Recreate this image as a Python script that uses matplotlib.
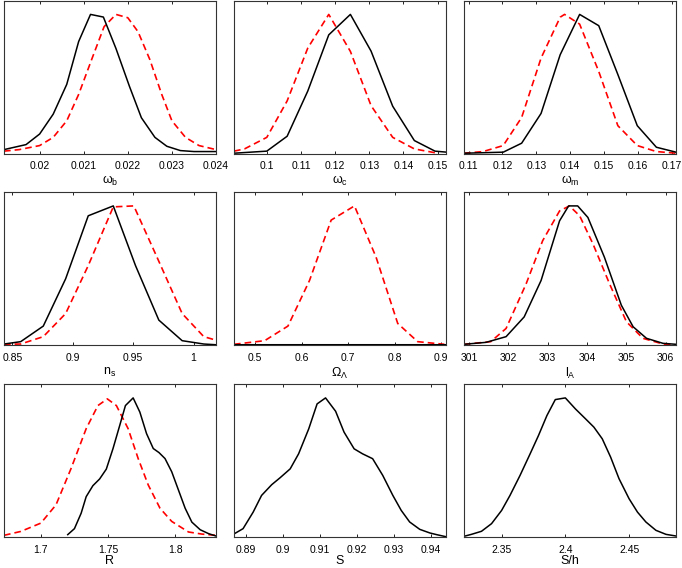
import matplotlib
matplotlib.use("Agg")
import matplotlib.pyplot as plt
from matplotlib.ticker import FuncFormatter

plt.rcParams['font.family'] = ['Liberation Sans', 'DejaVu Sans']
plt.rcParams['mathtext.fontset'] = 'custom'
plt.rcParams['mathtext.rm'] = 'Liberation Sans'
plt.rcParams['mathtext.it'] = 'Liberation Sans'

# omega_b
wb_x = [0.019192, 0.019692, 0.02, 0.020308, 0.020615, 0.020885, 0.021154, 0.021446,
        0.021731, 0.022038, 0.022308, 0.022615, 0.022885, 0.023192, 0.0235, 0.024]
wb_black = [0.028, 0.064, 0.140, 0.283, 0.497, 0.805, 1.0, 0.981,
            0.755, 0.482, 0.257, 0.116, 0.052, 0.021, 0.014, 0.014]
wb_red_x = [0.019192, 0.019538, 0.02, 0.020308, 0.020615, 0.020885, 0.021192, 0.021462, 0.021731,
            0.022, 0.022231, 0.0225, 0.022769, 0.023, 0.023308, 0.023615, 0.024]
wb_red = [0.017, 0.028, 0.057, 0.116, 0.235, 0.425, 0.686, 0.912, 1.0,
          0.976, 0.876, 0.675, 0.425, 0.235, 0.116, 0.057, 0.028]

# omega_c
wc_x = [0.0904, 0.1, 0.10595, 0.11199, 0.11813, 0.12446, 0.13051, 0.13684, 0.14318, 0.14922, 0.15244]
wc_black = [0.002, 0.017, 0.124, 0.449, 0.853, 1.0, 0.736, 0.340, 0.093, 0.017, 0.010]
wc_red_x = [0.0904, 0.09347, 0.1, 0.10595, 0.11199, 0.11813, 0.12446, 0.13051, 0.13684, 0.14318, 0.15]
wc_red = [0.017, 0.033, 0.116, 0.378, 0.758, 1.0, 0.734, 0.344, 0.116, 0.033, 0.002]

# omega_m
wm_x = [0.10866, 0.12023, 0.12567, 0.1314, 0.13704, 0.14278, 0.14842, 0.15406, 0.15979, 0.16543, 0.17122]
wm_black = [0.002, 0.0095, 0.074, 0.288, 0.71, 1.0, 0.919, 0.568, 0.2, 0.045, 0.0095]
wm_red_x = [0.10866, 0.11429, 0.12023, 0.12567, 0.1314, 0.13704, 0.13833, 0.14278, 0.14842,
            0.15406, 0.15979, 0.16543, 0.17122]
wm_red = [0.002, 0.014, 0.057, 0.259, 0.686, 0.98, 1.0, 0.93, 0.59, 0.2, 0.057, 0.014, 0.002]

# n_s
ns_x = [0.8431, 0.8569, 0.8756, 0.8941, 0.9128, 0.9335, 0.9519, 0.9712, 0.9905, 1.0084, 1.018]
ns_black = [0.007, 0.024, 0.136, 0.476, 0.929, 1.0, 0.571, 0.179, 0.031, 0.007, 0.002]
ns_red_x = [0.8431, 0.8569, 0.8756, 0.8941, 0.9128, 0.9335, 0.9505, 0.9697, 0.9905, 1.0084, 1.018]
ns_red = [0.005, 0.007, 0.06, 0.226, 0.571, 0.993, 1.0, 0.631, 0.226, 0.06, 0.036]

# Omega_Lambda (black run is flat at zero)
ol_x = [0.4541, 0.9108]
ol_black = [0.0, 0.0]
ol_red_x = [0.4541, 0.5022, 0.5201, 0.5703, 0.6168, 0.6634, 0.7136, 0.7602, 0.8068, 0.8498, 0.9072]
ol_red = [0.005, 0.024, 0.031, 0.136, 0.464, 0.898, 1.0, 0.631, 0.155, 0.024, 0.005]

# l_A
la_x = [300.87, 301.43, 301.94, 302.40, 302.83, 303.30, 303.53, 303.76, 304.02,
        304.44, 304.87, 305.17, 305.51, 305.93, 306.26]
la_black = [0.005, 0.019, 0.06, 0.202, 0.464, 0.893, 1.0, 1.0, 0.917,
            0.631, 0.286, 0.131, 0.048, 0.012, 0.005]
la_red_x = [300.87, 301.55, 301.94, 302.45, 302.87, 303.30, 303.55, 303.81, 304.15,
            304.57, 305.0, 305.42, 305.93, 306.26]
la_red = [0.005, 0.024, 0.119, 0.44, 0.75, 0.964, 1.0, 0.929, 0.726,
          0.44, 0.167, 0.048, 0.007, 0.0]

# R
r_x = [1.72, 1.725, 1.73, 1.73375, 1.73875, 1.74375, 1.74875, 1.75375, 1.75875, 1.763, 1.76875,
       1.77375, 1.77875, 1.78375, 1.788, 1.7925, 1.7975, 1.8025, 1.8075, 1.8125, 1.81875, 1.825, 1.8305]
r_black = [0.017, 0.06, 0.171, 0.29, 0.369, 0.417, 0.488, 0.636, 0.802, 0.945, 1.0,
           0.898, 0.743, 0.636, 0.607, 0.564, 0.469, 0.338, 0.207, 0.107, 0.052, 0.024, 0.007]
r_red_x = [1.6725, 1.685, 1.7, 1.71125, 1.7225, 1.73375, 1.7425, 1.7495, 1.75625, 1.765,
           1.7725, 1.78, 1.78875, 1.7975, 1.81, 1.82, 1.8305]
r_red = [0.012, 0.04, 0.1, 0.231, 0.493, 0.779, 0.945, 0.993, 0.945, 0.779,
         0.564, 0.374, 0.207, 0.112, 0.036, 0.021, 0.012]

# S
s_x = [0.88682, 0.88927, 0.8920, 0.89427, 0.8970, 0.89927, 0.9020, 0.90427, 0.9070, 0.90927,
       0.91155, 0.91427, 0.91655, 0.91927, 0.92155, 0.92427, 0.927, 0.92973, 0.932, 0.93427,
       0.937, 0.93973, 0.94155, 0.94409]
s_black = [0.022, 0.06, 0.179, 0.299, 0.376, 0.426, 0.49, 0.598, 0.777, 0.957,
           1.0, 0.904, 0.754, 0.634, 0.598, 0.563, 0.443, 0.299, 0.191, 0.108,
           0.055, 0.029, 0.017, 0.002]

# S/h
sh_x = [2.32053, 2.32632, 2.33421, 2.34211, 2.35, 2.35658, 2.36447, 2.37237, 2.37895, 2.38553,
        2.39211, 2.4, 2.40789, 2.41579, 2.42237, 2.42895, 2.43553, 2.44211, 2.45, 2.45658,
        2.46316, 2.47105, 2.47895, 2.48684]
sh_black = [0.005, 0.019, 0.041, 0.096, 0.191, 0.299, 0.443, 0.598, 0.73, 0.873,
            0.988, 1.0, 0.921, 0.85, 0.79, 0.706, 0.574, 0.419, 0.275, 0.179,
            0.108, 0.048, 0.019, 0.007]

panels = [
    (r'$\omega_\mathrm{b}$', wb_x, wb_black, wb_red_x, wb_red, (0.019192, 0.024),
     [0.02, 0.021, 0.022, 0.023, 0.024]),
    (r'$\omega_\mathrm{c}$', wc_x, wc_black, wc_red_x, wc_red, (0.0904, 0.15244),
     [0.1, 0.11, 0.12, 0.13, 0.14, 0.15]),
    (r'$\omega_\mathrm{m}$', wm_x, wm_black, wm_red_x, wm_red, (0.10866, 0.17122),
     [0.11, 0.12, 0.13, 0.14, 0.15, 0.16, 0.17]),
    (r'$\mathrm{n_s}$', ns_x, ns_black, ns_red_x, ns_red, (0.8431, 1.0185),
     [0.85, 0.9, 0.95, 1.0]),
    (r'$\Omega_\Lambda$', ol_x, ol_black, ol_red_x, ol_red, (0.4541, 0.9108),
     [0.5, 0.6, 0.7, 0.8, 0.9]),
    (r'$\mathrm{l_A}$', la_x, la_black, la_red_x, la_red, (300.87, 306.26),
     [301, 302, 303, 304, 305, 306]),
    ('R', r_x, r_black, r_red_x, r_red, (1.6725, 1.8305),
     [1.7, 1.75, 1.8]),
    ('S', s_x, s_black, None, None, (0.88682, 0.94409),
     [0.89, 0.9, 0.91, 0.92, 0.93, 0.94]),
    ('S/h', sh_x, sh_black, None, None, (2.3205, 2.4868),
     [2.35, 2.4, 2.45]),
]

W, H = 682, 568
fig = plt.figure(figsize=(W / 100, H / 100), dpi=100)

col_left = [4, 234, 464]
col_width = 212
row_top = [0.5, 192, 384]
row_height = 153

fmt = FuncFormatter(lambda v, p: '{:g}'.format(round(v, 6)))

for i, (label, xb, yb, xr, yr, xlim, ticks) in enumerate(panels):
    r, c = divmod(i, 3)
    ax = fig.add_axes([col_left[c] / W, 1 - (row_top[r] + row_height) / H,
                       col_width / W, row_height / H])
    if xr is not None:
        ax.plot(xr, yr, color='red', lw=1.2, dashes=(4, 2.4))
    ax.plot(xb, yb, color='black', lw=1.1 if i != 4 else 2.2)
    ax.set_xlim(*xlim)
    ax.set_ylim(0, 1.1)
    ax.set_xticks(ticks)
    ax.xaxis.set_major_formatter(fmt)
    ax.set_yticks([])
    ax.tick_params(axis='x', direction='in', top=True, length=2.5, width=0.6,
                   labelsize=7.5, pad=5.5)
    ax.set_xlabel(label, fontsize=9, labelpad=2 if r < 2 else 0.5)
    for sp in ax.spines.values():
        sp.set_linewidth(0.8)
        sp.set_color('#333333')

fig.savefig('out.png', dpi=100)
